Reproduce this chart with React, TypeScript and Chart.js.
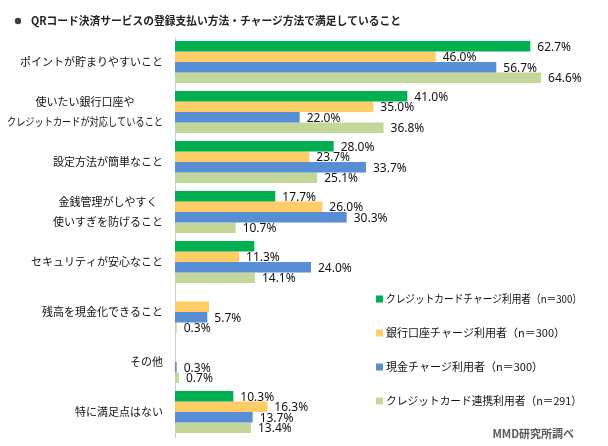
import React, { useEffect, useRef } from "react";
import { Chart, registerables } from "chart.js";

Chart.register(...registerables);

const titleText = "QRコード決済サービスの登録支払い方法・チャージ方法で満足していること";
const sourceText = "MMD研究所調べ";

const categories: (string | string[])[] = [
  "ポイントが貯まりやすいこと",
  ["使いたい銀行口座や", "クレジットカードが対応していること"],
  "設定方法が簡単なこと",
  ["金銭管理がしやすく", "使いすぎを防げること"],
  "セキュリティが安心なこと",
  "残高を現金化できること",
  "その他",
  "特に満足点はない",
];

const seriesNames = [
  "クレジットカードチャージ利用者（n＝300）",
  "銀行口座チャージ利用者（n＝300）",
  "現金チャージ利用者（n＝300）",
  "クレジットカード連携利用者（n＝291）",
];

const creditCharge = [62.7, 41.0, 28.0, 17.7, 14.0, 0, 0, 10.3];
const bankCharge = [46.0, 35.0, 23.7, 26.0, 11.3, 6.0, 0, 16.3];
const cashCharge = [56.7, 22.0, 33.7, 30.3, 24.0, 5.7, 0.3, 13.7];
const creditLink = [64.6, 36.8, 25.1, 10.7, 14.1, 0.3, 0.7, 13.4];

const seriesColors = ["#00B050", "#FFCC66", "#588ED5", "#C4D79B"];

// [datasetIndex, categoryIndex] whose value label is not shown in the original
const hiddenLabels: [number, number][] = [
  [0, 4],
  [1, 5],
];

const CJK = '"Noto Sans CJK JP", "Noto Sans", sans-serif';

const customDraw = {
  id: "customDraw",
  afterDatasetsDraw(chart: any) {
    const ctx = chart.ctx;
    ctx.save();
    ctx.font = '12px "Noto Sans", "DejaVu Sans", sans-serif';
    ctx.fillStyle = "#111";
    ctx.textBaseline = "middle";
    ctx.textAlign = "left";
    chart.data.datasets.forEach((ds: any, di: number) => {
      const meta = chart.getDatasetMeta(di);
      meta.data.forEach((bar: any, i: number) => {
        const v = ds.data[i];
        if (!v) return;
        if (hiddenLabels.some(([d, c]) => d === di && c === i)) return;
        ctx.fillText(v.toFixed(1) + "%", bar.x + 7, bar.y + 1);
      });
    });
    ctx.restore();
  },
  afterDraw(chart: any) {
    const ctx = chart.ctx;
    const area = chart.chartArea;
    const yScale = chart.scales.y;
    ctx.save();
    ctx.font = "11px " + CJK;
    ctx.fillStyle = "#111";
    ctx.textBaseline = "middle";
    const right = area.left - 12;
    categories.forEach((lab, i) => {
      const lines = Array.isArray(lab) ? lab : [lab];
      const cy = yScale.getPixelForTick(i);
      const widths = lines.map((l) => Math.min(ctx.measureText(l).width, 156));
      const blockW = Math.max(...widths);
      const center = right - blockW / 2;
      const lh = 20;
      lines.forEach((l, k) => {
        const y = cy + (k - (lines.length - 1) / 2) * lh;
        ctx.textAlign = "center";
        ctx.fillText(l, center, y, 156);
      });
    });
    // title
    ctx.fillStyle = "#404040";
    ctx.beginPath();
    ctx.arc(18, 21, 3.2, 0, Math.PI * 2);
    ctx.fill();
    ctx.fillStyle = "#222";
    ctx.font = "bold 11px " + CJK;
    ctx.textAlign = "left";
    ctx.fillText(titleText, 31, 21, 370);
    // legend
    ctx.font = "11px " + CJK;
    const legendY = [299, 333, 367, 401];
    seriesNames.forEach((name, i) => {
      ctx.fillStyle = seriesColors[i];
      ctx.fillRect(376, legendY[i] - 3.5, 7, 7);
      ctx.fillStyle = "#111";
      ctx.textAlign = "left";
      ctx.fillText(name, 386, legendY[i], 196);
    });
    // source
    ctx.font = "bold 11px " + CJK;
    ctx.fillStyle = "#595959";
    ctx.textAlign = "right";
    ctx.fillText(sourceText, 574, 434);
    ctx.restore();
  },
};

export default function App() {
  const ref = useRef<HTMLCanvasElement>(null);
  useEffect(() => {
    if (!ref.current) return;
    const seriesData = [creditCharge, bankCharge, cashCharge, creditLink];
    const chart = new Chart(ref.current, {
      type: "bar",
      data: {
        labels: categories as any,
        datasets: seriesData.map((d, i) => ({
          label: seriesNames[i],
          data: d,
          backgroundColor: seriesColors[i],
          borderWidth: 0,
          categoryPercentage: 0.84,
          barPercentage: 1.0,
        })),
      },
      options: {
        indexAxis: "y",
        animation: false,
        responsive: false,
        maintainAspectRatio: false,
        layout: { padding: { top: 37, bottom: 9, right: 8, left: 0 } },
        plugins: {
          legend: { display: false },
          tooltip: { enabled: false },
          title: { display: false },
        },
        scales: {
          x: { display: false, min: 0, max: 75 },
          y: {
            grid: { display: false, drawTicks: false },
            border: { display: true, color: "#D0D0D0", width: 1 },
            ticks: { display: false },
            afterFit: (scale: any) => {
              scale.width = 175;
            },
          },
        },
      },
      plugins: [customDraw],
    });
    return () => chart.destroy();
  }, []);
  return (
    <div style={{ position: "fixed", left: 0, top: 0, width: 608, height: 446, background: "#fff" }}>
      <canvas ref={ref} width={608} height={446} style={{ width: 608, height: 446 }} />
    </div>
  );
}
